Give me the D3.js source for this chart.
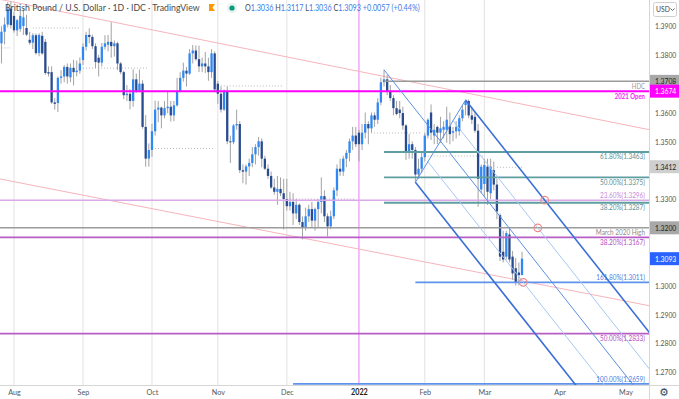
<!DOCTYPE html>
<html>
<head>
<meta charset="utf-8">
<script src="https://d3js.org/d3.v7.min.js"></script>
<style>
  body { margin: 0; background: #fff; }
  svg { display: block; font-family: Lato, "Open Sans", sans-serif; }
</style>
</head>
<body>
<svg id="chart" width="679" height="399"></svg>
<script>
// GBP/USD daily candles: date, open, high, low, close
var candles = [
  ["2021-07-26",1.3760,1.3829,1.3737,1.3824],
  ["2021-07-27",1.3840,1.3899,1.3770,1.3880],
  ["2021-07-28",1.3880,1.3930,1.3836,1.3905],
  ["2021-07-29",1.3905,1.3983,1.3895,1.3960],
  ["2021-07-30",1.3960,1.3985,1.3891,1.3903],
  // Aug
  ["2021-08-02",1.3935,1.3950,1.3877,1.3885],
  ["2021-08-03",1.3885,1.3925,1.3865,1.3920],
  ["2021-08-04",1.3890,1.3958,1.3880,1.3935],
  ["2021-08-05",1.3900,1.3958,1.3869,1.3930],
  ["2021-08-06",1.3893,1.3939,1.3865,1.3870],
  ["2021-08-09",1.3852,1.3880,1.3835,1.3842],
  ["2021-08-10",1.3842,1.3875,1.3820,1.3868],
  ["2021-08-11",1.3868,1.3874,1.3800,1.3806],
  ["2021-08-12",1.3806,1.3875,1.3795,1.3869],
  ["2021-08-13",1.3866,1.3880,1.3800,1.3805],
  ["2021-08-16",1.3845,1.3855,1.3730,1.3737],
  ["2021-08-17",1.3740,1.3760,1.3725,1.3735],
  ["2021-08-18",1.3740,1.3760,1.3630,1.3635],
  ["2021-08-19",1.3635,1.3650,1.3610,1.3630],
  ["2021-08-20",1.3633,1.3725,1.3602,1.3720],
  ["2021-08-23",1.3720,1.3747,1.3700,1.3725],
  ["2021-08-24",1.3725,1.3765,1.3705,1.3758],
  ["2021-08-25",1.3758,1.3770,1.3700,1.3725],
  ["2021-08-26",1.3722,1.3770,1.3705,1.3755],
  ["2021-08-27",1.3755,1.3783,1.3694,1.3740],
  ["2021-08-30",1.3740,1.3780,1.3725,1.3745],
  ["2021-08-31",1.3745,1.3791,1.3734,1.3770],
  // Sep
  ["2021-09-01",1.3782,1.3840,1.3765,1.3828],
  ["2021-09-02",1.3828,1.3880,1.3815,1.3869],
  ["2021-09-03",1.3869,1.3892,1.3840,1.3862],
  ["2021-09-06",1.3862,1.3870,1.3820,1.3830],
  ["2021-09-07",1.3830,1.3840,1.3754,1.3775],
  ["2021-09-08",1.3790,1.3800,1.3725,1.3773],
  ["2021-09-09",1.3773,1.3841,1.3760,1.3828],
  ["2021-09-10",1.3828,1.3868,1.3818,1.3840],
  ["2021-09-13",1.3835,1.3869,1.3812,1.3845],
  ["2021-09-14",1.3845,1.3913,1.3790,1.3830],
  ["2021-09-15",1.3830,1.3850,1.3794,1.3840],
  ["2021-09-16",1.3840,1.3845,1.3747,1.3770],
  ["2021-09-17",1.3770,1.3775,1.3733,1.3740],
  ["2021-09-20",1.3740,1.3745,1.3646,1.3660],
  ["2021-09-21",1.3660,1.3695,1.3640,1.3665],
  ["2021-09-22",1.3665,1.3681,1.3611,1.3640],
  ["2021-09-23",1.3640,1.3750,1.3620,1.3715],
  ["2021-09-24",1.3715,1.3735,1.3668,1.3675],
  ["2021-09-27",1.3675,1.3749,1.3670,1.3700],
  ["2021-09-28",1.3700,1.3712,1.3544,1.3550],
  ["2021-09-29",1.3550,1.3591,1.3412,1.3440],
  ["2021-09-30",1.3440,1.3493,1.3412,1.3470],
  // Oct
  ["2021-10-01",1.3470,1.3561,1.3446,1.3535],
  ["2021-10-04",1.3535,1.3641,1.3520,1.3610],
  ["2021-10-05",1.3610,1.3640,1.3566,1.3617],
  ["2021-10-06",1.3617,1.3620,1.3545,1.3590],
  ["2021-10-07",1.3590,1.3640,1.3580,1.3615],
  ["2021-10-08",1.3615,1.3674,1.3597,1.3620],
  ["2021-10-11",1.3620,1.3640,1.3569,1.3590],
  ["2021-10-12",1.3590,1.3640,1.3570,1.3625],
  ["2021-10-13",1.3625,1.3720,1.3620,1.3675],
  ["2021-10-14",1.3675,1.3740,1.3670,1.3720],
  ["2021-10-15",1.3720,1.3773,1.3707,1.3745],
  ["2021-10-18",1.3745,1.3758,1.3690,1.3735],
  ["2021-10-19",1.3735,1.3820,1.3730,1.3805],
  ["2021-10-20",1.3805,1.3834,1.3770,1.3815],
  ["2021-10-21",1.3815,1.3833,1.3780,1.3785],
  ["2021-10-22",1.3785,1.3832,1.3740,1.3760],
  ["2021-10-25",1.3760,1.3790,1.3740,1.3770],
  ["2021-10-26",1.3770,1.3810,1.3737,1.3760],
  ["2021-10-27",1.3760,1.3790,1.3710,1.3740],
  ["2021-10-28",1.3740,1.3820,1.3720,1.3805],
  ["2021-10-29",1.3805,1.3812,1.3670,1.3680],
  // Nov
  ["2021-11-01",1.3700,1.3710,1.3630,1.3665],
  ["2021-11-02",1.3665,1.3690,1.3600,1.3610],
  ["2021-11-03",1.3610,1.3680,1.3605,1.3675],
  ["2021-11-04",1.3675,1.3690,1.3490,1.3500],
  ["2021-11-05",1.3500,1.3520,1.3425,1.3497],
  ["2021-11-08",1.3497,1.3560,1.3490,1.3555],
  ["2021-11-09",1.3555,1.3610,1.3540,1.3560],
  ["2021-11-10",1.3560,1.3570,1.3390,1.3400],
  ["2021-11-11",1.3400,1.3420,1.3355,1.3395],
  ["2021-11-12",1.3395,1.3420,1.3350,1.3413],
  ["2021-11-15",1.3413,1.3440,1.3380,1.3425],
  ["2021-11-16",1.3425,1.3480,1.3410,1.3455],
  ["2021-11-17",1.3455,1.3490,1.3420,1.3480],
  ["2021-11-18",1.3480,1.3515,1.3450,1.3500],
  ["2021-11-19",1.3500,1.3510,1.3410,1.3440],
  ["2021-11-22",1.3440,1.3450,1.3400,1.3405],
  ["2021-11-23",1.3405,1.3420,1.3370,1.3380],
  ["2021-11-24",1.3380,1.3395,1.3335,1.3340],
  ["2021-11-25",1.3340,1.3370,1.3315,1.3325],
  ["2021-11-26",1.3325,1.3380,1.3280,1.3335],
  ["2021-11-29",1.3335,1.3375,1.3310,1.3320],
  ["2021-11-30",1.3320,1.3370,1.3194,1.3300],
  // Dec
  ["2021-12-01",1.3300,1.3370,1.3260,1.3275],
  ["2021-12-02",1.3275,1.3325,1.3260,1.3290],
  ["2021-12-03",1.3290,1.3320,1.3210,1.3250],
  ["2021-12-06",1.3250,1.3300,1.3230,1.3280],
  ["2021-12-07",1.3280,1.3285,1.3210,1.3220],
  ["2021-12-08",1.3220,1.3240,1.3160,1.3200],
  ["2021-12-09",1.3200,1.3270,1.3190,1.3240],
  ["2021-12-10",1.3240,1.3280,1.3220,1.3265],
  ["2021-12-13",1.3265,1.3290,1.3200,1.3225],
  ["2021-12-14",1.3225,1.3270,1.3190,1.3265],
  ["2021-12-15",1.3265,1.3300,1.3200,1.3290],
  ["2021-12-16",1.3290,1.3375,1.3250,1.3310],
  ["2021-12-17",1.3310,1.3330,1.3220,1.3240],
  ["2021-12-20",1.3240,1.3250,1.3170,1.3205],
  ["2021-12-21",1.3205,1.3260,1.3195,1.3240],
  ["2021-12-22",1.3240,1.3340,1.3230,1.3330],
  ["2021-12-23",1.3330,1.3420,1.3310,1.3405],
  ["2021-12-24",1.3405,1.3440,1.3380,1.3395],
  ["2021-12-27",1.3395,1.3450,1.3380,1.3440],
  ["2021-12-28",1.3440,1.3470,1.3410,1.3460],
  ["2021-12-29",1.3460,1.3510,1.3430,1.3500],
  ["2021-12-30",1.3500,1.3550,1.3470,1.3520],
  ["2021-12-31",1.3520,1.3550,1.3480,1.3490],
  // Jan
  ["2022-01-03",1.3530,1.3540,1.3430,1.3490],
  ["2022-01-04",1.3490,1.3560,1.3470,1.3530],
  ["2022-01-05",1.3530,1.3600,1.3510,1.3560],
  ["2022-01-06",1.3560,1.3570,1.3490,1.3545],
  ["2022-01-07",1.3545,1.3600,1.3530,1.3590],
  ["2022-01-10",1.3590,1.3600,1.3550,1.3575],
  ["2022-01-11",1.3575,1.3650,1.3560,1.3635],
  ["2022-01-12",1.3635,1.3720,1.3625,1.3705],
  ["2022-01-13",1.3705,1.3748,1.3690,1.3715],
  ["2022-01-14",1.3715,1.3730,1.3660,1.3675],
  ["2022-01-17",1.3675,1.3695,1.3640,1.3650],
  ["2022-01-18",1.3650,1.3660,1.3590,1.3615],
  ["2022-01-19",1.3615,1.3640,1.3590,1.3595],
  ["2022-01-20",1.3610,1.3640,1.3580,1.3598],
  ["2022-01-21",1.3598,1.3620,1.3540,1.3555],
  ["2022-01-24",1.3555,1.3560,1.3435,1.3465],
  ["2022-01-25",1.3465,1.3525,1.3440,1.3490],
  ["2022-01-26",1.3490,1.3500,1.3440,1.3470],
  ["2022-01-27",1.3470,1.3480,1.3358,1.3385],
  ["2022-01-28",1.3385,1.3440,1.3370,1.3405],
  ["2022-01-31",1.3405,1.3460,1.3390,1.3445],
  // Feb
  ["2022-02-01",1.3445,1.3530,1.3430,1.3520],
  ["2022-02-02",1.3520,1.3580,1.3510,1.3575],
  ["2022-02-03",1.3600,1.3628,1.3505,1.3530],
  ["2022-02-04",1.3520,1.3560,1.3490,1.3540],
  ["2022-02-07",1.3550,1.3555,1.3490,1.3530],
  ["2022-02-08",1.3530,1.3585,1.3495,1.3545],
  ["2022-02-09",1.3540,1.3570,1.3510,1.3550],
  ["2022-02-10",1.3540,1.3620,1.3495,1.3575],
  ["2022-02-11",1.3552,1.3600,1.3490,1.3525],
  ["2022-02-14",1.3530,1.3550,1.3500,1.3535],
  ["2022-02-15",1.3535,1.3570,1.3510,1.3550],
  ["2022-02-16",1.3535,1.3590,1.3520,1.3580],
  ["2022-02-17",1.3580,1.3625,1.3570,1.3610],
  ["2022-02-18",1.3626,1.3645,1.3590,1.3640],
  ["2022-02-21",1.3640,1.3645,1.3580,1.3590],
  ["2022-02-22",1.3590,1.3620,1.3560,1.3575],
  ["2022-02-23",1.3585,1.3600,1.3530,1.3537],
  ["2022-02-24",1.3537,1.3560,1.3273,1.3370],
  ["2022-02-25",1.3333,1.3420,1.3320,1.3412],
  ["2022-02-28",1.3352,1.3440,1.3310,1.3418],
  // Mar
  ["2022-03-01",1.3412,1.3440,1.3280,1.3325],
  ["2022-03-02",1.3320,1.3440,1.3300,1.3412],
  ["2022-03-03",1.3400,1.3430,1.3330,1.3350],
  ["2022-03-04",1.3350,1.3370,1.3230,1.3257],
  ["2022-03-07",1.3244,1.3250,1.3085,1.3100],
  ["2022-03-08",1.3117,1.3190,1.3080,1.3090],
  ["2022-03-09",1.3100,1.3190,1.3090,1.3182],
  ["2022-03-10",1.3177,1.3200,1.3080,1.3090],
  ["2022-03-11",1.3100,1.3120,1.3020,1.3042],
  ["2022-03-14",1.3060,1.3095,1.3000,1.3010],
  ["2022-03-15",1.3045,1.3080,1.3000,1.3036],
  ["2022-03-16",1.3036,1.3117,1.3036,1.3093]
];

// right price scale
var priceTicks = [1.27, 1.28, 1.29, 1.30, 1.33, 1.35, 1.36, 1.38, 1.39];

// time scale (Mar grid sits one bar before the 1st in the source)
var monthTicks = ["2021-08-02","2021-09-01","2021-10-01","2021-11-01","2021-12-01",
                  "2022-01-03","2022-02-01","2022-02-28","2022-04-01","2022-05-02"];
var monthLabels = ["Aug","Sep","Oct","Nov","Dec","2022","Feb","Mar","Apr","May"];

// horizontal levels drawn on the chart
var levels = [
  {price: 1.3708, label: "HDC",             from: "2022-01-13", kind: "hdc"},
  {price: 1.3674, label: "2021 Open",       from: null,         kind: "open"},
  {price: 1.3463, label: "61.80%(1.3463)",  from: "2022-01-13", kind: "teal"},
  {price: 1.3375, label: "50.00%(1.3375)",  from: "2022-01-13", kind: "teal"},
  {price: 1.3296, label: "23.60%(1.3296)",  from: null,         kind: "lilac"},
  {price: 1.3287, label: "38.20%(1.3287)",  from: "2022-01-13", kind: "teal"},
  {price: 1.3200, label: "March 2020 High", from: null,         kind: "grey"},
  {price: 1.3167, label: "38.20%(1.3167)",  from: null,         kind: "purple"},
  {price: 1.3011, label: "161.80%(1.3011)", from: "2022-01-27", kind: "blue"},
  {price: 1.2833, label: "50.00%(1.2833)",  from: null,         kind: "purple"},
  {price: 1.2659, label: "100.00%(1.2659)", from: "2021-12-03", kind: "blue"}
];
var labelsAbove = ["23.60%(1.3296)", "161.80%(1.3011)", "100.00%(1.2659)"];

// monthly open markers (dotted)
var monthOpens = [
  ["2021-07-27","2021-07-30",1.3824],
  ["2021-08-10","2021-08-31",1.3893],
  ["2021-09-01","2021-09-30",1.3754],
  ["2021-10-01","2021-10-29",1.3475],
  ["2021-11-01","2021-11-30",1.3692],
  ["2021-12-02","2021-12-31",1.3300],
  ["2022-01-03","2022-01-31",1.3529],
  ["2022-02-01","2022-02-28",1.3449],
  ["2022-03-04","2022-03-16",1.3410]
];

// long-term trendlines
var trendlines = [
  [["2021-07-30", 1.3985], ["2022-03-16", 1.3629]],
  [["2021-08-02", 1.3360], ["2022-03-16", 1.3016]]
];

// pitchfork pivots
var forkA = ["2022-01-13", 1.3748];
var forkB = ["2022-01-27", 1.3358];
var forkC = ["2022-02-18", 1.3643];
var forkMarks = [{line: "upper", price: 1.3296}, {line: "upperMid", price: 1.3200}, {line: "lowerMid", price: 1.3011}];

// price tags on the axis
var tags = [
  {price: 1.3708, kind: "hdc"},
  {price: 1.3674, kind: "open"},
  {price: 1.3412, kind: "pivot"},
  {price: 1.3200, kind: "grey"},
  {price: 1.3093, kind: "last"}
];

var kindStyle = {
  hdc:    {stroke: "#9a9a9a", w: 1.5, text: "#999999"},
  open:   {stroke: "#ff00ff", w: 2,   text: "#f01ef0", bold: true},
  teal:   {stroke: "#5f9ea0", w: 1.8, text: "#5a8f95"},
  lilac:  {stroke: "#dba8e8", w: 1.5, text: "#c58ad8"},
  grey:   {stroke: "#9c9c9c", w: 1.5, text: "#8a8a8a"},
  purple: {stroke: "#b65ec4", w: 1.8, text: "#b04cc0"},
  blue:   {stroke: "#5f92ea", w: 1.8, text: "#4a80e0"}
};
var tagStyle = {
  hdc:   {bg: "#a8a8a8", fg: "#1e1e1e"},
  open:  {bg: "#ff00ff", fg: "#ffffff"},
  pivot: {bg: "#cfcfcf", fg: "#222222"},
  grey:  {bg: "#a8a8a8", fg: "#1e1e1e"},
  last:  {bg: "#2962ff", fg: "#ffffff"}
};

var W = 679, H = 399, plotR = 649, plotB = 385;
var svg = d3.select("#chart");

// trading-day calendar (weekdays) so bars sit side by side
var parse = d3.utcParse("%Y-%m-%d"), fmt = d3.utcFormat("%Y-%m-%d");
var days = d3.utcDays(parse("2021-07-26"), parse("2022-06-01")).filter(function(d) { return d.getUTCDay() % 6 !== 0; });
var dayIndex = new Map(days.map(function(d, i) { return [fmt(d), i]; }));
function ix(s) { return dayIndex.get(s); }

var x = d3.scaleLinear().domain([ix("2021-08-02"), ix("2022-03-16")]).range([14, 522]);
var y = d3.scaleLinear().domain([1.27, 1.39]).range([372, 26]);

// narrow the text horizontally around its anchor point
function squeeze(sel, k) {
  sel.each(function() {
    var x0 = +(this.getAttribute("x") || 0);
    d3.select(this).attr("transform", "translate(" + x0 + ",0) scale(" + k + ",1) translate(" + (-x0) + ",0)");
  });
}

svg.append("defs").append("clipPath").attr("id", "plot")
  .append("rect").attr("x", 0).attr("y", 0).attr("width", plotR).attr("height", plotB);

var plot = svg.append("g").attr("clip-path", "url(#plot)");

// vertical month grid (only months with bars)
plot.selectAll("line.grid")
  .data(monthTicks.slice(0, 8))
  .join("line")
    .attr("x1", function(d) { return x(ix(d)); })
    .attr("x2", function(d) { return x(ix(d)); })
    .attr("y1", 0).attr("y2", plotB)
    .attr("stroke", function(d, i) { return i === 5 ? "#ea7bf2" : "#e2e2e2"; })
    .attr("stroke-width", 1);

// trendlines, extended across the pane
plot.selectAll("line.trend")
  .data(trendlines)
  .join("line")
    .each(function(d) {
      var x1 = x(ix(d[0][0])), y1 = y(d[0][1]), x2 = x(ix(d[1][0])), y2 = y(d[1][1]);
      var m = (y2 - y1) / (x2 - x1);
      d3.select(this).attr("x1", -10).attr("y1", y1 + m * (-10 - x1))
        .attr("x2", plotR).attr("y2", y1 + m * (plotR - x1));
    })
    .attr("stroke", "#f6b4bb").attr("stroke-width", 1);

// monthly open dotted lines
plot.selectAll("line.mopen")
  .data(monthOpens)
  .join("line")
    .attr("x1", function(d) { return x(ix(d[0])); })
    .attr("x2", function(d) { return x(ix(d[1])); })
    .attr("y1", function(d) { return y(d[2]); })
    .attr("y2", function(d) { return y(d[2]); })
    .attr("stroke", "#b8b8b8").attr("stroke-dasharray", "1,2");

// candles
var bars = plot.selectAll("g.bar").data(candles).join("g");
bars.append("line")
  .attr("x1", function(d) { return x(ix(d[0])); })
  .attr("x2", function(d) { return x(ix(d[0])); })
  .attr("y1", function(d) { return y(d[2]); })
  .attr("y2", function(d) { return y(d[3]); })
  .attr("stroke", "#a2a2a2").attr("stroke-width", 1);
bars.append("rect")
  .attr("x", function(d) { return x(ix(d[0])) - 1.15; })
  .attr("width", 2.3)
  .attr("y", function(d) { return y(Math.max(d[1], d[4])); })
  .attr("height", function(d) { return Math.max(1, Math.abs(y(d[1]) - y(d[4]))); })
  .attr("fill", function(d) { return d[4] >= d[1] ? "#2f88f3" : "#2a4c8e"; });

// horizontal levels
plot.selectAll("line.level")
  .data(levels)
  .join("line")
    .attr("x1", function(d) { return d.from ? x(ix(d.from)) : 0; })
    .attr("x2", plotR)
    .attr("y1", function(d) { return y(d.price); })
    .attr("y2", function(d) { return y(d.price); })
    .attr("stroke", function(d) { return kindStyle[d.kind].stroke; })
    .attr("stroke-width", function(d) { return kindStyle[d.kind].w; });

var lvlText = svg.append("g").selectAll("text")
  .data(levels)
  .join("text")
    .attr("x", 645)
    .attr("y", function(d) { return y(d.price) + (labelsAbove.indexOf(d.label) >= 0 ? -2 : 7.5); })
    .attr("text-anchor", "end")
    .attr("font-size", function(d) { return d.kind === "open" || d.kind === "hdc" ? 7.5 : 8; })
    .attr("font-weight", function(d) { return kindStyle[d.kind].bold ? "bold" : "normal"; })
    .attr("fill", function(d) { return kindStyle[d.kind].text; })
    .text(function(d) { return d.label; });
squeeze(lvlText, 0.8);

// pitchfork
function pt(p) { return [x(ix(p[0])), y(p[1])]; }
function lerp(a, b, t) { return [a[0] + (b[0] - a[0]) * t, a[1] + (b[1] - a[1]) * t]; }
var A = pt(forkA), B = pt(forkB), C = pt(forkC);
var M = lerp(B, C, 0.5);
var dir = [M[0] - A[0], M[1] - A[1]];
var forkStarts = {lower: B, lowerMid: lerp(B, C, 0.25), median: A, upperMid: lerp(B, C, 0.75), upper: C};
var forkLook = {
  lower:    {stroke: "#3a6fd8", w: 1.6},
  lowerMid: {stroke: "#a9c7f3", w: 1},
  median:   {stroke: "#5c8fe3", w: 1},
  upperMid: {stroke: "#a9c7f3", w: 1},
  upper:    {stroke: "#3a6fd8", w: 1.6}
};
var forkG = plot.append("g");
Object.keys(forkStarts).forEach(function(k) {
  var P = forkStarts[k];
  forkG.append("line")
    .attr("x1", P[0]).attr("y1", P[1])
    .attr("x2", P[0] + dir[0] * 10).attr("y2", P[1] + dir[1] * 10)
    .attr("stroke", forkLook[k].stroke).attr("stroke-width", forkLook[k].w);
});
forkG.append("line")
  .attr("x1", B[0]).attr("y1", B[1]).attr("x2", C[0]).attr("y2", C[1])
  .attr("stroke", "#5c8fe3").attr("stroke-width", 1);

// pitchfork touch markers
plot.selectAll("circle.mark")
  .data(forkMarks)
  .join("circle")
    .attr("cx", function(d) {
      var P = forkStarts[d.line];
      return P[0] + dir[0] * (y(d.price) - P[1]) / dir[1];
    })
    .attr("cy", function(d) { return y(d.price); })
    .attr("r", 3.8)
    .attr("fill", "none").attr("stroke", "#f08a8a").attr("stroke-width", 1.2);

// pane borders
svg.append("line").attr("x1", plotR + 0.5).attr("x2", plotR + 0.5).attr("y1", 0).attr("y2", H)
  .attr("stroke", "#d6d6d6");
svg.append("line").attr("x1", 0).attr("x2", W).attr("y1", plotB + 0.5).attr("y2", plotB + 0.5)
  .attr("stroke", "#d6d6d6");

// price axis
var yAxis = svg.append("g")
  .attr("transform", "translate(" + plotR + ",0)")
  .call(d3.axisRight(y).tickValues(priceTicks).tickSize(0).tickPadding(6).tickFormat(d3.format(".4f")));
yAxis.select(".domain").remove();
yAxis.selectAll("text").attr("font-size", 8.5).attr("fill", "#555").attr("font-family", "Lato, sans-serif");
squeeze(yAxis.selectAll("text"), 0.8);

// price tags
var tagG = svg.append("g").selectAll("g").data(tags).join("g")
  .attr("transform", function(d) { return "translate(" + (plotR + 1) + "," + y(d.price) + ")"; });
tagG.append("rect").attr("x", 0).attr("y", -6.5).attr("width", W - plotR - 1).attr("height", 13)
  .attr("fill", function(d) { return tagStyle[d.kind].bg; });
var tagText = tagG.append("text").attr("x", 5).attr("y", 3).attr("font-size", 8.5)
  .attr("fill", function(d) { return tagStyle[d.kind].fg; })
  .text(function(d) { return d3.format(".4f")(d.price); });
squeeze(tagText, 0.8);

// time axis
var xAxis = svg.append("g")
  .attr("transform", "translate(0," + plotB + ")")
  .call(d3.axisBottom(x).tickValues(monthTicks.map(ix)).tickSize(0).tickPadding(4)
    .tickFormat(function(d, i) { return monthLabels[i]; }));
xAxis.select(".domain").remove();
xAxis.selectAll("text").attr("font-size", 8.5).attr("font-family", "Lato, sans-serif")
  .attr("fill", function(d, i) { return i === 5 ? "#222" : "#555"; })
  .attr("font-weight", function(d, i) { return i === 5 ? "bold" : "normal"; });
squeeze(xAxis.selectAll("text"), 0.85);

// corner widgets
svg.append("rect").attr("x", 653.5).attr("y", 2.5).attr("width", 23).attr("height", 14).attr("rx", 2)
  .attr("fill", "#fff").attr("stroke", "#cfcfcf");
var usd = svg.append("text").attr("x", 656).attr("y", 12.5).attr("font-size", 8.5).attr("fill", "#444").text("USD");
squeeze(usd, 0.8);
svg.append("path").attr("d", "M670.5,8.5 l2,2 l2,-2").attr("fill", "none").attr("stroke", "#555").attr("stroke-width", 0.9);
svg.append("text").attr("x", 664).attr("y", 396).attr("text-anchor", "middle").attr("font-size", 11)
  .attr("font-family", "DejaVu Sans").attr("fill", "#444").text("\u2699");

// legend line
var head = svg.append("g");
head.append("text").attr("y", 11.5).attr("font-size", 10).attr("fill", "#4a4a4a")
  .text("British Pound / U.S. Dollar \u00b7 1D \u00b7 IDC \u00b7 TradingView");
var hw = head.node().getBBox().width;
head.attr("transform", "translate(5,0) scale(" + (195 / hw) + ",1)");

svg.append("rect").attr("x", 209).attr("y", 4).attr("width", 6).attr("height", 7).attr("fill", "#ff9800");
svg.append("path").attr("d", "M215,4 L212.5,7.5 L215,11 Z").attr("fill", "#fff");
svg.append("circle").attr("cx", 232).attr("cy", 8).attr("r", 5).attr("fill", "#e6f2ef");
svg.append("circle").attr("cx", 232).attr("cy", 8).attr("r", 2.6).attr("fill", "#0a9a7e");

var ohlc = svg.append("g");
var ot = ohlc.append("text").attr("y", 11.5).attr("font-size", 10);
[["O", "1.3036"], [" H", "1.3117"], [" L", "1.3036"], [" C", "1.3093"], [" ", "+0.0057 (+0.44%)"]].forEach(function(p) {
  ot.append("tspan").attr("fill", "#4a4a4a").text(p[0]);
  ot.append("tspan").attr("fill", "#3b7ee8").text(p[1]);
});
var ow = ohlc.node().getBBox().width;
ohlc.attr("transform", "translate(245,0) scale(" + (175 / ow) + ",1)");
</script>
</body>
</html>
